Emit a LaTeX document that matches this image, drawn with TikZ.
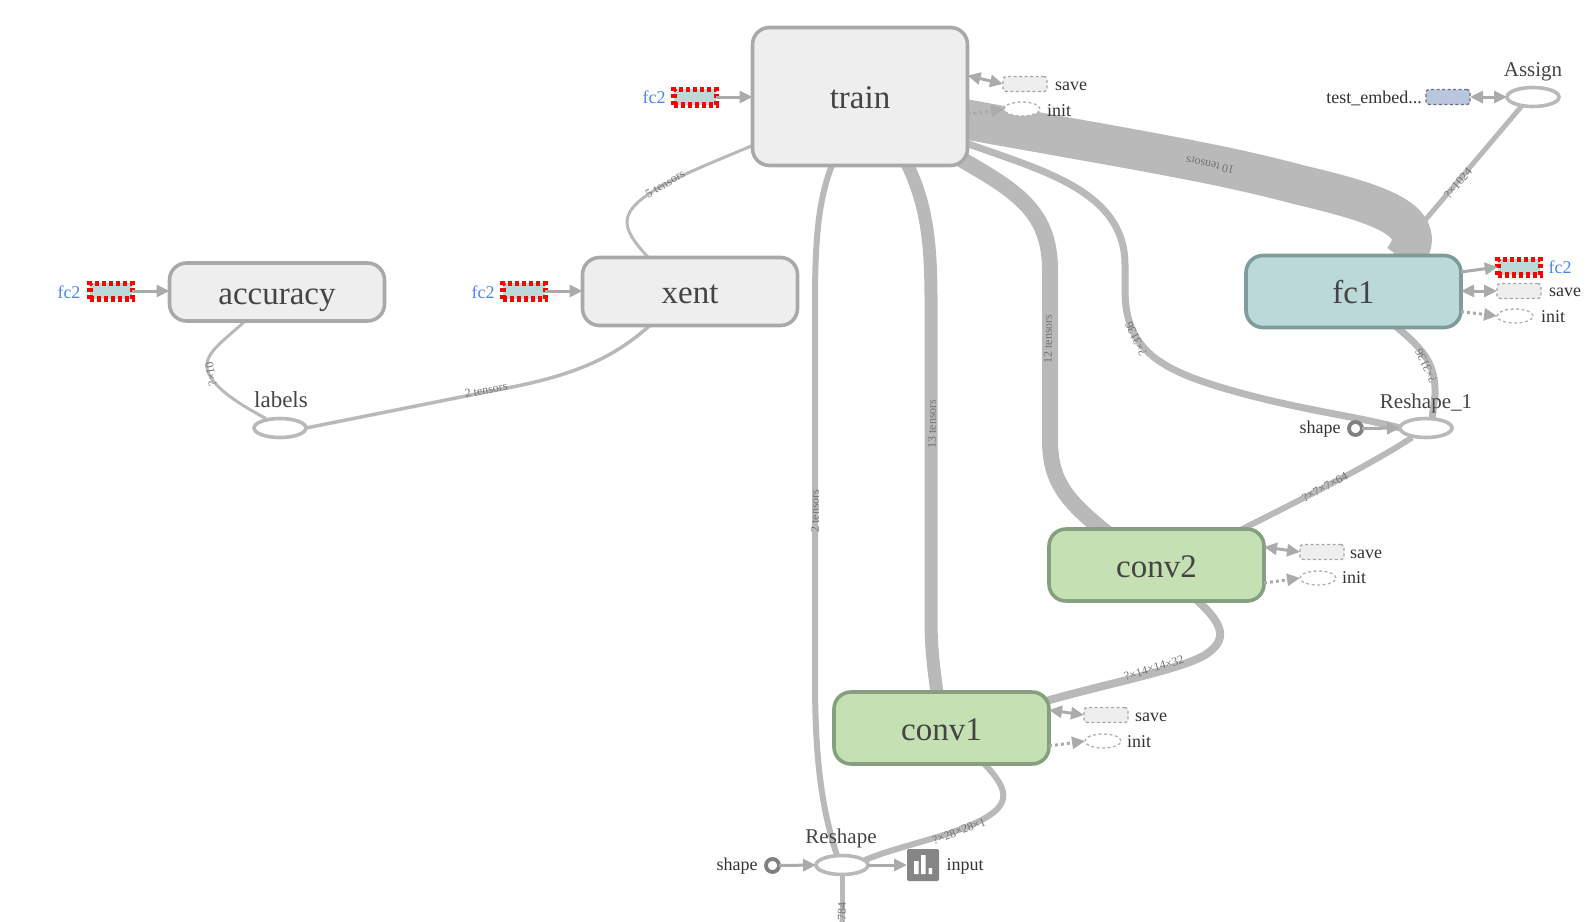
\documentclass[tikz,border=0pt]{standalone}
\usepackage{fontspec}
\setmainfont{Liberation Serif}
\usetikzlibrary{arrows.meta,backgrounds,shapes.geometric}
\definecolor{edgegray}{HTML}{B9B9B9}
\definecolor{arrowgray}{HTML}{ABABAB}
\definecolor{boxgray}{HTML}{EEEEEE}
\definecolor{boxline}{HTML}{A9A9A9}
\definecolor{tealfill}{HTML}{BBD9D9}
\definecolor{tealline}{HTML}{7F9C9C}
\definecolor{greenfill}{HTML}{C5E1B3}
\definecolor{greenline}{HTML}{84A07F}
\definecolor{bluefill}{HTML}{B9C6DE}
\definecolor{linkblue}{HTML}{4A86F0}
\definecolor{txtdark}{HTML}{444444}
\newcommand{\fs}[1]{\fontsize{#1}{#1}\selectfont}
\tikzset{
  every node/.style={inner sep=0pt,outer sep=0pt},
  group/.style={draw=boxline,fill=boxgray,line width=3.6pt,rounded corners=17pt,text=txtdark,font=\fs{33},text height=32pt,text depth=8pt},
  grayg/.style={group},
  tealg/.style={group,draw=tealline,fill=tealfill},
  greeng/.style={group,draw=greenline,fill=greenfill},
  opnode/.style={draw=edgegray,fill=white,line width=3.6pt,ellipse,minimum width=52pt,minimum height=19pt},
  oplabel/.style={font=\fs{21},text=txtdark},
  small/.style={font=\fs{18},text=black!80},
  bluetext/.style={font=\fs{18},text=linkblue},
  fcbox/.style={draw=red,fill=tealfill,line width=5.5pt,dash pattern=on 4pt off 3pt,minimum width=42.5pt,minimum height=15.5pt},
  savebox/.style={draw=black!35,fill=boxgray,line width=1.3pt,dash pattern=on 3pt off 2.5pt,rounded corners=3pt,minimum width=44pt,minimum height=15pt},
  initell/.style={draw=black!30,fill=white,line width=1.3pt,dash pattern=on 3pt off 2.5pt,ellipse,minimum width=36pt,minimum height=14pt},
  constc/.style={draw=black!50,fill=white,line width=3.8pt,circle,minimum size=13pt},
  edge/.style={draw=edgegray,line width=#1,line cap=butt},
  edge/.default=5pt,
  elabel/.style={font=\fs{12},text=black!55},
  ctl/.style={draw=arrowgray,line width=3pt,-{Triangle[length=13pt,width=12pt]}},
  ref/.style={draw=arrowgray,line width=3pt,{Triangle[length=13pt,width=12pt]}-{Triangle[length=13pt,width=12pt]}},
  dep/.style={draw=arrowgray,line width=3pt,dash pattern=on 3pt off 3pt,-{Triangle[length=13pt,width=12pt,sep=0pt]}},
}
\begin{document}
\begin{tikzpicture}[x=1pt,y=-1pt]
\useasboundingbox (0,0) rectangle (1586,921);
\clip (0,0) rectangle (1586,921);
% main groups
\node[grayg,minimum width=215pt,minimum height=138pt] (train) at (860,96.5) {train};
\node[grayg,minimum width=215pt,minimum height=68pt] (xent) at (690,291.5) {xent};
\node[grayg,minimum width=215pt,minimum height=58pt] (accuracy) at (277,292) {accuracy};
\node[tealg,minimum width=215pt,minimum height=72pt] (fc1) at (1353.5,291.5) {fc1};
\node[greeng,minimum width=215pt,minimum height=72pt] (conv2) at (1156.5,565) {conv2};
\node[greeng,minimum width=215pt,minimum height=72pt] (conv1) at (941.5,728) {conv1};
% ops
\node[opnode] (assign) at (1533,97) {};
\node[opnode] (labels) at (280,428) {};
\node[opnode] (reshapeone) at (1426,428) {};
\node[opnode] (reshape) at (842,865) {};
\node[oplabel] (assignlab) at (1533,72) {Assign};
\node[oplabel,font=\fs{23}] (labelslab) at (281,400) {labels};
\node[oplabel] (reshapeonelab) at (1426,403) {Reshape\_1};
\node[oplabel] (reshapelab) at (841,838) {Reshape};
% constants
\node[constc] (shapeone) at (1355.5,428.5) {};
\node[constc] (shapezero) at (772.5,865.5) {};
\node[small] (shapeonelab) at (1320,429) {shape};
\node[small] (shapezerolab) at (737,866) {shape};
% input summary
\node[fill=black!48,rounded corners=2pt,minimum size=32pt] (input) at (923,865) {};
\fill[white] (914,861) rectangle (918.5,874) (921,855) rectangle (925.5,874) (928.5,868) rectangle (932,874);
\node[small] (inputlab) at (965,866) {input};
% fc2 references
\node[fcbox] (fctrain) at (695,97) {};
\node[bluetext] (fctrainlab) at (654,97.5) {fc2};
\node[fcbox] (fcxent) at (524,291) {};
\node[bluetext] (fcxentlab) at (483,292) {fc2};
\node[fcbox] (fcacc) at (111,291) {};
\node[bluetext] (fcacclab) at (69,292) {fc2};
\node[fcbox] (fcone) at (1519,267) {};
\node[bluetext] (fconelab) at (1560,267) {fc2};
% save / init
\node[savebox] (savetrain) at (1025,84) {};
\node[initell] (inittrain) at (1022,109) {};
\node[small] (savetrainlab) at (1071,86) {save};
\node[small] (inittrainlab) at (1059,111) {init};
\node[savebox] (savefc) at (1519,291) {};
\node[initell] (initfc) at (1515,316) {};
\node[small] (savefclab) at (1565,292) {save};
\node[small] (initfclab) at (1553,317) {init};
\node[savebox] (savetwo) at (1322,552) {};
\node[initell] (inittwo) at (1318,578) {};
\node[small] (savetwolab) at (1366,554) {save};
\node[small] (inittwolab) at (1354,578) {init};
\node[savebox] (saveone) at (1106,715) {};
\node[initell] (initone) at (1103,741) {};
\node[small] (saveonelab) at (1151,717) {save};
\node[small] (initonelab) at (1139,742) {init};
\node[savebox,fill=bluefill,draw=bluefill!55!black] (embed) at (1448,97) {};
\node[small] (embedlab) at (1374,98) {test\_embed...};
% connectors
\begin{scope}[on background layer]
\draw[edge=6pt] ([xshift=-27pt,yshift=3pt]train.south) .. controls (820,195) and (815,230) .. (815,300) -- (815,680) .. controls (815,760) and (822,810) .. ([xshift=-5pt]reshape.north);
\draw[edge=13pt] ([xshift=45pt,yshift=6pt]train.south) .. controls (925,200) and (931,235) .. (931,300) -- (931,620) .. controls (931,650) and (934,670) .. ([xshift=-4pt,yshift=-5pt]conv1.north);
\draw[edge=16pt] ([xshift=-13pt,yshift=10pt]train.south east) .. controls (1015,190) and (1050,210) .. (1050,270) -- (1050,440) .. controls (1050,480) and (1065,500) .. ([xshift=-50pt,yshift=-4pt]conv2.north);
\draw[edge=7pt] ([xshift=-6pt,yshift=-45pt]train.east) .. controls (1040,170) and (1125,190) .. (1125,265) -- (1125,290) .. controls (1125,350) and (1160,370) .. (1230,390) .. controls (1300,410) and (1350,415) .. (reshapeone.west);
\draw[edge=40pt] ([xshift=-6pt,yshift=-22pt]train.east) .. controls (1040,133) and (1130,148) .. (1200,162) .. controls (1240,170) and (1270,177) .. (1300,185) .. controls (1385,205) and (1432,222) .. ([xshift=50pt,yshift=-4pt]fc1.north);
\draw[edge=5pt] ([xshift=-10pt,yshift=2pt]assign.south) -- ([xshift=40pt,yshift=-2pt]fc1.north);
\draw[edge=7pt] ([xshift=40pt,yshift=3pt]fc1.south) .. controls (1425,350) and (1436,365) .. (1435,395) -- ([xshift=6pt]reshapeone.north);
\draw[edge=6pt] ([xshift=-14pt]reshapeone.south) .. controls (1370,465) and (1300,500) .. ([xshift=80pt,yshift=-3pt]conv2.north);
\draw[edge=8pt] ([xshift=38pt,yshift=3pt]conv2.south) .. controls (1225,625) and (1228,640) .. (1205,655) .. controls (1180,670) and (1100,685) .. ([xshift=-6pt,yshift=-10pt]conv1.north east);
\draw[edge=6pt] ([xshift=40pt,yshift=3pt]conv1.south) .. controls (1005,785) and (1012,800) .. (990,815) .. controls (960,835) and (900,845) .. ([xshift=-3pt,yshift=5pt]reshape.east);
\draw[edge=5pt] (reshape.south) -- ++(0,50);
\draw[edge=3pt] ([yshift=20pt]train.south west) .. controls (690,172) and (627,195) .. (627,222) .. controls (627,235) and (640,248) .. ([xshift=-40pt,yshift=-2pt]xent.north);
\draw[edge=3.5pt] ([xshift=-38pt,yshift=2pt]xent.south) .. controls (610,362) and (566,378) .. (486,392) -- (labels.east);
\draw[edge=3pt] ([xshift=-32pt]accuracy.south) .. controls (225,340) and (205,352) .. (207,368) .. controls (210,385) and (235,402) .. ([xshift=-14pt]labels.north);
\end{scope}
% small arrows
\draw[ctl] (fctrain.east) -- (train.west |- fctrain);
\draw[ctl] (fcxent.east) -- (xent.west |- fcxent);
\draw[ctl] (fcacc.east) -- (accuracy.west |- fcacc);
\draw[ctl] ([yshift=-5pt]fc1.east |- fcone) -- (fcone.west);
\draw[ctl] (shapeone.east) -- (reshapeone.west);
\draw[ctl] (shapezero.east) -- (reshape.west);
\draw[ctl] (reshape.east) -- (input.west);
\draw[ref] ([yshift=21pt]train.east) -- (savetrain.west);
\draw[ref] (fc1.east |- savefc) -- (savefc.west);
\draw[ref] ([yshift=18pt]conv2.east) -- (savetwo.west);
\draw[ref] ([yshift=18pt]conv1.east) -- (saveone.west);
\draw[ref] (embed.east) -- (assign.west);
\draw[dep] ([yshift=-18pt]train.east) -- (inittrain.west);
\draw[dep] ([yshift=-20pt]fc1.east) -- (initfc.west);
\draw[dep] ([yshift=-18pt]conv2.east) -- (inittwo.west);
\draw[dep] ([yshift=-18pt]conv1.east) -- (initone.west);
% edge labels
\node[elabel,rotate=30] (e5) at (665,184) {5 tensors};
\node[elabel,rotate=100] (e10a) at (211,374) {?×10};
\node[elabel,rotate=10] (e2a) at (486,390) {2 tensors};
\node[elabel,rotate=90] (e2b) at (815,511) {2 tensors};
\node[elabel,rotate=90] (e13) at (932,424) {13 tensors};
\node[elabel,rotate=90] (e12) at (1048,339) {12 tensors};
\node[elabel,rotate=168] (e10) at (1210,165) {10 tensors};
\node[elabel,rotate=49] (e1024) at (1458,183) {?×1024};
\node[elabel,rotate=115] (e3136a) at (1136,339) {?×3136};
\node[elabel,rotate=115] (e3136b) at (1426,366) {?×3136};
\node[elabel,rotate=28] (e64) at (1325,487) {?×7×7×64};
\node[elabel,rotate=17] (e32) at (1154,668) {?×14×14×32};
\node[elabel,rotate=20] (e1) at (959,831) {?×28×28×1};
\node[elabel,rotate=90] (e784) at (842,918) {?×784};
\end{tikzpicture}
\end{document}
